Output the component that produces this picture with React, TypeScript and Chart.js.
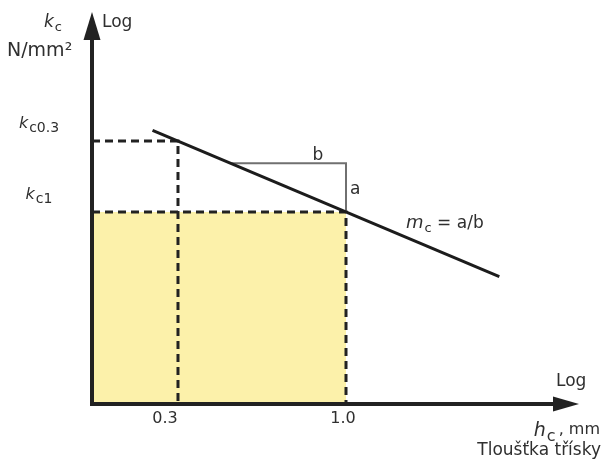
import React, { useEffect, useRef } from "react";
import { Chart, registerables } from "chart.js";

Chart.register(...registerables);

const FONT = '"DejaVu Sans", sans-serif';
const TEXT = "#2f2f2f";
const INK = "#222222";
const YELLOW = "#fcf1aa";

// Log–log axis ranges: chip thickness h (mm) and specific cutting force kc (N/mm²)
const hRange = [0.162, 5.31];
const kcRange = [664.5, 3503];

// Reference chip thicknesses and their specific cutting forces (kc0.3, kc1)
const hTicks = [0.3, 1.0];
const hTickLabels = ["0.3", "1.0"];
const kcLevels = [2027, 1500];
const kcSubscripts = ["c0.3", "c1"];

// kc–h characteristic line
const lineH = [0.25, 3.0];
const lineKc = [2121, 1140];

// Slope triangle (b horizontal, a vertical)
const slopeH = [0.44, 1.0, 1.0];
const slopeKc = [1845, 1845, 1500];

function pts(xs: number[], ys: number[]) {
  return xs.map((x, i) => ({ x, y: ys[i] }));
}

function drawSub(
  ctx: CanvasRenderingContext2D,
  x: number,
  y: number,
  main: string,
  sub: string,
  mainFont: string,
  subFont: string,
  drop: number,
  align: "left" | "center" | "right" = "left"
) {
  ctx.font = mainFont;
  const w1 = ctx.measureText(main).width;
  ctx.font = subFont;
  const w2 = ctx.measureText(sub).width;
  const total = w1 + w2 + 1;
  let left = x;
  if (align === "center") left = x - total / 2;
  if (align === "right") left = x - total;
  ctx.textAlign = "left";
  ctx.font = mainFont;
  ctx.fillText(main, left, y);
  ctx.font = subFont;
  ctx.fillText(sub, left + w1 + 1, y + drop);
  return left + total;
}

const diagramPlugin = {
  id: "diagram",
  afterDatasetsDraw(chart: any) {
    const { ctx, chartArea: a, scales } = chart;
    const xs = scales.x;
    const ys = scales.y;
    ctx.save();

    // axes with arrowheads
    ctx.strokeStyle = INK;
    ctx.fillStyle = INK;
    ctx.lineWidth = 4;
    ctx.lineCap = "butt";
    ctx.beginPath();
    ctx.moveTo(a.left, a.bottom + 2);
    ctx.lineTo(a.left, a.top + 24);
    ctx.stroke();
    ctx.beginPath();
    ctx.moveTo(a.left - 2, a.bottom);
    ctx.lineTo(a.right - 22, a.bottom);
    ctx.stroke();
    ctx.beginPath();
    ctx.moveTo(a.left, a.top);
    ctx.lineTo(a.left - 8.5, a.top + 28);
    ctx.lineTo(a.left + 8.5, a.top + 28);
    ctx.closePath();
    ctx.fill();
    ctx.beginPath();
    ctx.moveTo(a.right, a.bottom);
    ctx.lineTo(a.right - 26, a.bottom - 7.5);
    ctx.lineTo(a.right - 26, a.bottom + 7.5);
    ctx.closePath();
    ctx.fill();

    ctx.fillStyle = TEXT;
    ctx.textBaseline = "alphabetic";

    // y-axis titles
    ctx.textAlign = "left";
    ctx.font = `17px ${FONT}`;
    ctx.fillText("Log", a.left + 10, 27);
    drawSub(ctx, 44, 27, "k", "c", `italic 17px ${FONT}`, `13px ${FONT}`, 4);
    ctx.textAlign = "left";
    ctx.font = `19px ${FONT}`;
    ctx.fillText("N/mm²", 7, 56);

    // kc level labels
    kcLevels.forEach((v, i) => {
      const y = ys.getPixelForValue(v);
      drawSub(ctx, 39, y - 13.5, "k", kcSubscripts[i], `italic 16px ${FONT}`, `14px ${FONT}`, 4.5, "center");
    });

    // h tick labels
    const tickShift = [-13, -3];
    ctx.font = `16px ${FONT}`;
    ctx.textAlign = "center";
    hTicks.forEach((v, i) => {
      const x = xs.getPixelForValue(v);
      ctx.fillText(hTickLabels[i], x + tickShift[i], 423);
    });

    // x-axis titles
    ctx.textAlign = "left";
    ctx.font = `17px ${FONT}`;
    ctx.fillText("Log", 556, 386);
    ctx.font = `16px ${FONT}`;
    ctx.textAlign = "right";
    ctx.fillText(", mm", 600, 434);
    const commaW = ctx.measureText(", mm").width;
    drawSub(ctx, 600 - commaW - 3, 436, "h", "c", `italic 19px ${FONT}`, `16px ${FONT}`, 5, "right");
    ctx.textAlign = "right";
    ctx.font = `17px ${FONT}`;
    ctx.fillText("Tloušťka třísky", 601, 455);

    // slope triangle labels
    const xr = xs.getPixelForValue(slopeH[1]);
    const yTop = ys.getPixelForValue(slopeKc[0]);
    const yBot = ys.getPixelForValue(slopeKc[2]);
    ctx.font = `17px ${FONT}`;
    ctx.textAlign = "center";
    ctx.fillText("b", xr - 28, yTop - 3);
    ctx.textAlign = "left";
    ctx.fillText("a", xr + 4, (yTop + yBot) / 2 + 6);

    // slope definition
    const end = drawSub(ctx, 406, 228, "m", "c", `italic 18px ${FONT}`, `13px ${FONT}`, 4);
    ctx.font = `17px ${FONT}`;
    ctx.textAlign = "left";
    ctx.fillText(" = a/b", end, 228);

    ctx.restore();
  },
};

export default function App() {
  const ref = useRef<HTMLCanvasElement | null>(null);

  useEffect(() => {
    if (!ref.current) return;
    const dash = {
      borderColor: INK,
      borderWidth: 3,
      borderDash: [8, 5],
      pointRadius: 0,
      tension: 0,
    };
    const chart = new Chart(ref.current, {
      type: "line",
      data: {
        datasets: [
          {
            ...dash,
            data: pts([hRange[0], hTicks[1], hTicks[1]], [kcLevels[1], kcLevels[1], kcRange[0]]),
            fill: "start",
            backgroundColor: YELLOW,
            order: 5,
          },
          {
            ...dash,
            data: pts([hRange[0], hTicks[0], hTicks[0]], [kcLevels[0], kcLevels[0], kcRange[0]]),
            fill: false,
            order: 4,
          },
          {
            data: pts(slopeH, slopeKc),
            borderColor: "#707070",
            borderWidth: 2,
            pointRadius: 0,
            fill: false,
            tension: 0,
            order: 3,
          },
          {
            data: pts(lineH, lineKc),
            borderColor: "#1c1c1c",
            borderWidth: 3,
            pointRadius: 0,
            fill: false,
            tension: 0,
            order: 2,
          },
        ],
      },
      options: {
        animation: false,
        responsive: false,
        devicePixelRatio: 1,
        parsing: false,
        layout: { padding: { left: 92, right: 24, top: 12, bottom: 57 } },
        plugins: { legend: { display: false }, tooltip: { enabled: false }, title: { display: false } },
        scales: {
          x: { type: "logarithmic", display: false, bounds: "data", min: hRange[0], max: hRange[1] },
          y: { type: "logarithmic", display: false, bounds: "data", min: kcRange[0], max: kcRange[1] },
        },
      },
      plugins: [diagramPlugin],
    } as any);
    return () => chart.destroy();
  }, []);

  return (
    <div style={{ position: "absolute", left: 0, top: 0, width: 603, height: 461, background: "#fff" }}>
      <canvas ref={ref} width={603} height={461} style={{ display: "block" }} />
    </div>
  );
}
